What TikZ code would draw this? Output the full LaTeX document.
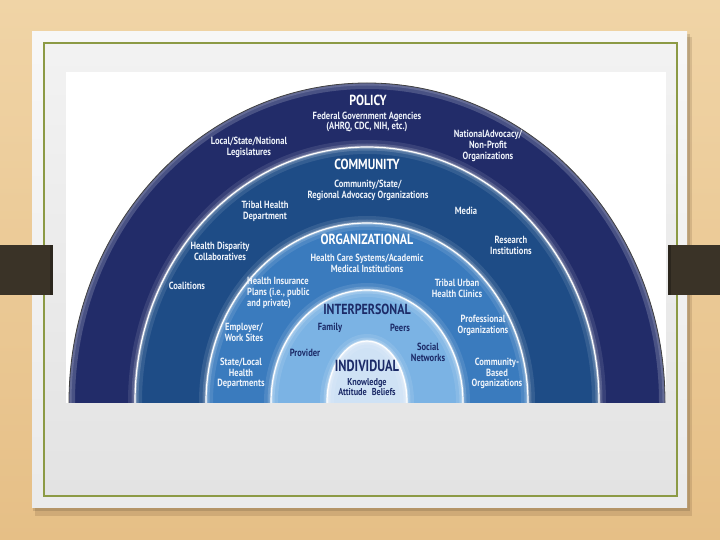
\documentclass[tikz,border=0pt]{standalone}
\usepackage{fontspec}
\setmainfont{PT Sans}[FakeStretch=0.82]
\definecolor{wood}{HTML}{E6BF86}
\definecolor{woodlt}{HTML}{F0D4A6}
\definecolor{olive}{HTML}{8C9A45}
\definecolor{barc}{HTML}{3A3327}
\definecolor{cpol}{HTML}{222C69}
\definecolor{ccom}{HTML}{1E4C86}
\definecolor{corg}{HTML}{3A7BBE}
\definecolor{cint}{HTML}{7BB3E4}
\definecolor{cind}{HTML}{CFE2F5}
\definecolor{dtext}{HTML}{1C2B68}
\definecolor{ltext}{HTML}{EEF3FA}
\tikzset{
  lbl/.style={align=center,font=\bfseries\fontsize{10.4}{10.8}\selectfont,text=ltext,inner sep=0pt},
  dlbl/.style={lbl,text=dtext},
  ttl/.style={font=\bfseries\fontsize{14.6}{14.6}\selectfont,text=white,inner sep=0pt},
  dttl/.style={ttl,text=dtext},
  glowa/.style={white,opacity=.10,line width=14pt},
  glowb/.style={white,opacity=.16,line width=7pt},
  glowc/.style={white,opacity=.30,line width=3pt},
  edge/.style={white,line width=1.2pt},
}
\begin{document}
\begin{tikzpicture}[x=1pt,y=-1pt]
\useasboundingbox (0,0) rectangle (720,540);
% wood background
\shade[top color=woodlt,bottom color=wood] (0,0) rectangle (720,540);
% card shadow
\fill[black!60!brown,opacity=.15] (35,37) rectangle (692,516);
\fill[black,opacity=.12] (33,34) rectangle (690,511);
% card
\shade[top color=white!97!black,bottom color=white!92!black] (32,32) rectangle (687,507);
\shade[top color=white!95!black,bottom color=white!89!black] (44,43) rectangle (677,496);
\draw[olive,line width=1.8pt] (44,43) rectangle (677,496);
% diagram panel
\fill[white] (66,72) rectangle (666,403);
\coordinate (c) at (367,402);
\begin{scope}
\clip (66,72) rectangle (666,402);
% policy
\fill[cpol] (c) ellipse [x radius=298pt,y radius=319pt];
\begin{scope}
\clip (c) ellipse [x radius=298pt,y radius=319pt];
\draw[white,opacity=.18,line width=12pt] (c) ellipse [x radius=298pt,y radius=319pt];
\draw[white,opacity=.15,line width=5pt] (c) ellipse [x radius=298pt,y radius=319pt];
\end{scope}
\draw[black!75,line width=0.8pt] (c) ellipse [x radius=298pt,y radius=319pt];
% community
\fill[ccom] (c) ellipse [x radius=232pt,y radius=255pt];
\foreach \s in {glowa,glowb,glowc,edge}
  \draw[\s] (c) ellipse [x radius=232pt,y radius=255pt];
% organizational
\fill[corg] (c) ellipse [x radius=161pt,y radius=179pt];
\foreach \s in {glowa,glowb,glowc,edge}
  \draw[\s] (c) ellipse [x radius=161pt,y radius=179pt];
% interpersonal
\fill[cint] (c) ellipse [x radius=96pt,y radius=112pt];
\foreach \s in {glowa,glowb,glowc,edge}
  \draw[\s] (c) ellipse [x radius=96pt,y radius=112pt];
% individual
\fill[cind] (c) ellipse [x radius=40pt,y radius=61pt];
\foreach \s in {glowa,glowb,glowc,edge}
  \draw[\s] (c) ellipse [x radius=40pt,y radius=61pt];
\end{scope}
% brown bars
\fill[barc] (0,245) rectangle (53,295);
\fill[barc] (668,245) rectangle (720,295);
\fill[black,opacity=.25] (50,245) rectangle (53,295);
\fill[black,opacity=.25] (668,245) rectangle (671,295);
% policy labels
\node[ttl] (tpol) at (368,100) {POLICY};
\node[lbl] (fed) at (367,122) {Federal Government Agencies\\(AHRQ, CDC, NIH, etc.)};
\node[lbl] (leg) at (249,147.5) {Local/State/National\\Legislatures};
\node[lbl] (nat) at (488,146) {NationalAdvocacy/\\Non-Profit\\Organizations};
% community labels
\node[ttl] (tcom) at (367,164) {COMMUNITY};
\node[lbl] (cso) at (368,190.5) {Community/State/\\Regional Advocacy Organizations};
\node[lbl] (thd) at (265,211) {Tribal Health\\Department};
\node[lbl] (media) at (466,211) {Media};
\node[lbl] (hdc) at (220,251) {Health Disparity\\Collaboratives};
\node[lbl] (coal) at (187,286) {Coalitions};
\node[lbl] (res) at (511,245) {Research\\Institutions};
% organizational labels
\node[ttl] (torg) at (367,239) {ORGANIZATIONAL};
\node[lbl] (hcs) at (367,263) {Health Care Systems/Academic\\Medical Institutions};
\node[lbl,align=left,anchor=west] (hip) at (247,293) {Health Insurance\\Plans (i.e., public\\and private)};
\node[lbl] (tuc) at (457,288) {Tribal Urban\\Health Clinics};
\node[lbl] (emp) at (244,332.5) {Employer/\\Work Sites};
\node[lbl] (sld) at (241,373.5) {State/Local\\Health\\Departments};
\node[lbl] (prof) at (483,325.5) {Professional\\Organizations};
\node[lbl] (cbo) at (497,373.5) {Community-\\Based\\Organizations};
% interpersonal labels
\node[dttl] (tint) at (367,309) {INTERPERSONAL};
\node[dlbl] (fam) at (330,328) {Family};
\node[dlbl] (peers) at (400,328) {Peers};
\node[dlbl] (prov) at (305,353) {Provider};
\node[dlbl] (soc) at (428,352) {Social\\Networks};
% individual labels
\node[dttl] (tind) at (367,365.5) {\scalebox{1.04}[1.1]{INDIVIDUAL}};
\node[dlbl,font=\bfseries\fontsize{10}{10.4}\selectfont] (know) at (367,387) {Knowledge\\Attitude\enspace Beliefs};
\end{tikzpicture}
\end{document}
